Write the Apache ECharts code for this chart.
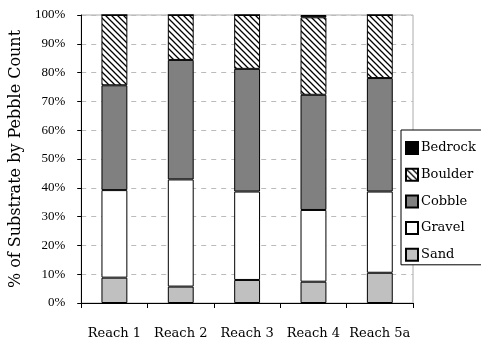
<!DOCTYPE html>
<html>
<head>
<meta charset="utf-8">
<script src="https://cdn.jsdelivr.net/npm/echarts@6/dist/echarts.min.js"></script>
<style>
html, body { margin: 0; padding: 0; background: #fff; }
#chart { width: 481px; height: 346px; }
</style>
</head>
<body>
<div id="chart"></div>
<script>
var reaches = ['Reach 1', 'Reach 2', 'Reach 3', 'Reach 4', 'Reach 5a']
var sand = [8.8, 5.7, 8.0, 7.4, 10.5]
var gravel = [30.4, 37.2, 30.7, 24.9, 28.2]
var cobble = [36.4, 41.5, 42.6, 40.0, 39.4]
var boulder = [24.4, 15.6, 18.7, 26.9, 21.9]
var bedrock = [0, 0, 0, 0.8, 0]
var legendOrder = ['Bedrock', 'Boulder', 'Cobble', 'Gravel', 'Sand']

// diagonal hatch for boulder
function hatch() {
	var s = 6
	var c = document.createElement('canvas')
	c.width = s
	c.height = s
	var ctx = c.getContext('2d')
	ctx.fillStyle = '#fff'
	ctx.fillRect(0, 0, s, s)
	ctx.strokeStyle = '#000'
	ctx.lineWidth = 1.3
	ctx.beginPath()
	ctx.moveTo(-1, -1); ctx.lineTo(s + 1, s + 1)
	ctx.moveTo(-s - 1, -1); ctx.lineTo(1, s + 1)
	ctx.moveTo(s - 1, -1); ctx.lineTo(2 * s + 1, s + 1)
	ctx.stroke()
	return c
}

var font = 'Liberation Serif'
var wide = 'DejaVu Serif'

function bar(name, data, fill) {
	return {
		name: name,
		type: 'bar',
		stack: 'all',
		barWidth: '39%',
		data: data,
		itemStyle: { color: fill, borderColor: '#000', borderWidth: 1 }
	}
}

var mychart = echarts.init(document.getElementById('chart'))
var option = {
	animation: false,
	backgroundColor: '#fff',
	textStyle: { fontFamily: font, color: '#000' },
	grid: { left: 80, right: 68, top: 15, bottom: 43, show: true, borderColor: '#aaa', borderWidth: 1 },
	legend: {
		data: legendOrder,
		orient: 'vertical',
		left: 401,
		top: 130,
		z: 20,
		icon: 'rect',
		itemWidth: 12,
		itemHeight: 12,
		itemGap: 12.7,
		padding: [11, 20, 3, 4],
		backgroundColor: '#fff',
		borderColor: '#000',
		borderWidth: 1,
		textStyle: { fontFamily: wide, fontSize: 13, color: '#000', padding: [0, 0, 0, -2] }
	},
	xAxis: {
		type: 'category',
		data: reaches,
		axisLine: { lineStyle: { color: '#000', width: 1 } },
		axisTick: { show: true, alignWithLabel: false, length: 5, lineStyle: { color: '#000' } },
		axisLabel: { interval: 0, color: '#000', fontFamily: wide, fontSize: 13, margin: 24 }
	},
	yAxis: {
		type: 'value',
		min: 0,
		max: 100,
		interval: 10,
		name: '% of Substrate by Pebble Count',
		nameLocation: 'middle',
		nameGap: 50,
		nameTextStyle: { fontFamily: wide, fontSize: 16, color: '#000' },
		axisLine: { show: true, lineStyle: { color: '#000', width: 1 } },
		axisTick: { show: true, length: 4, lineStyle: { color: '#000' } },
		axisLabel: { color: '#000', fontFamily: font, fontSize: 13, formatter: '{value}%', margin: 16 },
		splitLine: { show: true, lineStyle: { color: '#bbb', type: [5, 5] } }
	},
	series: [
		bar('Sand', sand, '#c0c0c0'),
		bar('Gravel', gravel, '#fff'),
		bar('Cobble', cobble, '#808080'),
		bar('Boulder', boulder, { image: hatch(), repeat: 'repeat' }),
		bar('Bedrock', bedrock, '#000')
	]
}
mychart.setOption(option)
</script>
</body>
</html>
